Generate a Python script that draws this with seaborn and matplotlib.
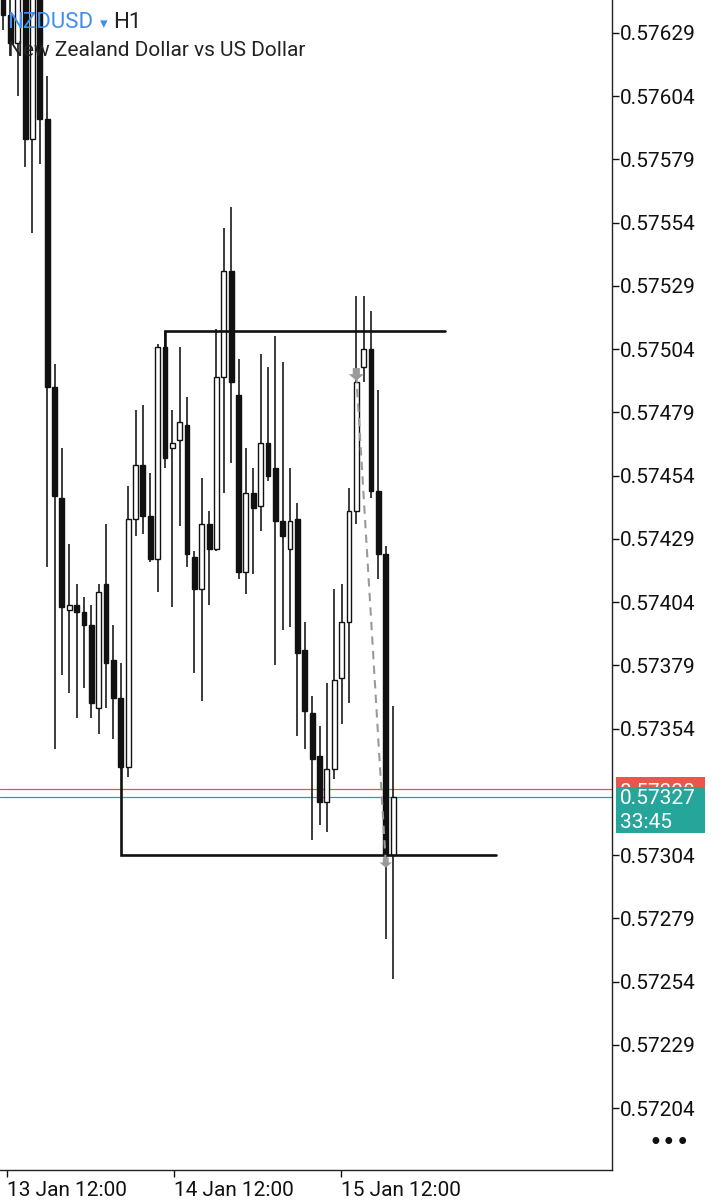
import matplotlib
matplotlib.use("Agg")
import matplotlib.pyplot as plt
import seaborn as sns
import numpy as np
import pandas as pd
from matplotlib.patches import Rectangle
from matplotlib.path import Path

# ---- data (NZDUSD H1 candles, oldest -> newest) ----
opens = [0.57650, 0.57636, 0.57625, 0.57644, 0.57587, 0.57643, 0.57595, 0.57489, 0.57445, 0.57401,
         0.57403, 0.57400, 0.57395, 0.57362, 0.57411, 0.57381, 0.57366, 0.57339, 0.57437, 0.57458,
         0.57438, 0.57421, 0.57505, 0.57465, 0.57468, 0.57474, 0.57422, 0.57409, 0.57435, 0.57425,
         0.57493, 0.57535, 0.57486, 0.57416, 0.57447, 0.57442, 0.57467, 0.57457, 0.57436, 0.57425,
         0.57437, 0.57385, 0.57360, 0.57343, 0.57325, 0.57338, 0.57374, 0.57396, 0.57440, 0.57497,
         0.57504, 0.57448, 0.57423, 0.57304]
highs = [0.57658, 0.57646, 0.57648, 0.57646, 0.57644, 0.57644, 0.57612, 0.57498, 0.57465, 0.57427,
         0.57411, 0.57406, 0.57403, 0.57411, 0.57435, 0.57395, 0.57380, 0.57450, 0.57480, 0.57482,
         0.57455, 0.57506, 0.57511, 0.57480, 0.57505, 0.57485, 0.57424, 0.57453, 0.57440, 0.57512,
         0.57552, 0.57560, 0.57500, 0.57465, 0.57457, 0.57502, 0.57497, 0.57509, 0.57499, 0.57457,
         0.57443, 0.57396, 0.57367, 0.57355, 0.57372, 0.57409, 0.57411, 0.57449, 0.57525, 0.57525,
         0.57519, 0.57488, 0.57426, 0.57363]
lows = [0.57630, 0.57620, 0.57604, 0.57576, 0.57550, 0.57577, 0.57418, 0.57346, 0.57375, 0.57368,
        0.57358, 0.57370, 0.57358, 0.57352, 0.57362, 0.57350, 0.57338, 0.57335, 0.57430, 0.57431,
        0.57420, 0.57408, 0.57457, 0.57402, 0.57434, 0.57418, 0.57376, 0.57365, 0.57403, 0.57424,
        0.57447, 0.57459, 0.57413, 0.57407, 0.57415, 0.57432, 0.57452, 0.57379, 0.57393, 0.57394,
        0.57351, 0.57346, 0.57310, 0.57316, 0.57313, 0.57334, 0.57356, 0.57364, 0.57435, 0.57491,
        0.57445, 0.57413, 0.57271, 0.57255]
closes = [0.57636, 0.57625, 0.57644, 0.57587, 0.57643, 0.57595, 0.57489, 0.57446, 0.57402, 0.57403,
          0.57400, 0.57395, 0.57364, 0.57408, 0.57380, 0.57366, 0.57339, 0.57437, 0.57458, 0.57438,
          0.57421, 0.57505, 0.57461, 0.57467, 0.57475, 0.57423, 0.57409, 0.57435, 0.57425, 0.57493,
          0.57535, 0.57491, 0.57416, 0.57447, 0.57441, 0.57467, 0.57454, 0.57436, 0.57430, 0.57436,
          0.57384, 0.57361, 0.57342, 0.57325, 0.57338, 0.57373, 0.57396, 0.57440, 0.57491, 0.57504,
          0.57448, 0.57423, 0.57304, 0.57327]

price_ticks = [0.57629, 0.57604, 0.57579, 0.57554, 0.57529, 0.57504, 0.57479, 0.57454, 0.57429,
               0.57404, 0.57379, 0.57354, 0.57304, 0.57279, 0.57254, 0.57229, 0.57204]
time_labels = ["13 Jan 12:00", "14 Jan 12:00", "15 Jan 12:00"]
time_label_pos = [0.55, 23.2, 45.9]

level_high = 0.57511
level_high_span = [22, 60]
level_low = 0.57304
level_low_span = [16, 67]
level_low_start = 0.57339
level_high_start = 0.57505

ask_price = 0.57330
bid_price = 0.57327
timer_text = "33:45"

trade_idx = [48, 52]
trade_price = [0.57494, 0.57301]

# ---- styling ----
sns.set_theme(style="white")
plt.rcParams['font.family'] = ['Roboto', 'DejaVu Sans']

W, H = 723, 1200
fig = plt.figure(figsize=(W / 100, H / 100), dpi=100)
fig.patch.set_facecolor("white")
ax = fig.add_axes([0, 30 / H, 612 / W, 1170 / H])
ax.set_facecolor("white")

df = pd.DataFrame({"i": np.arange(len(opens)), "o": opens, "h": highs, "l": lows, "c": closes})
df["bull"] = df["c"] >= df["o"]
df["lo"] = df[["o", "c"]].min(axis=1)
df["ht"] = (df["c"] - df["o"]).abs().clip(lower=0.000012)

dark = "#111111"
ax.vlines(df["i"], df["l"], df["h"], color=dark, lw=1.15, zorder=2)
ax.bar(df["i"], df["ht"], bottom=df["lo"], width=0.66,
       color=np.where(df["bull"], "white", dark), edgecolor=dark, linewidth=1.0, zorder=3)

# level lines
hi_df = pd.DataFrame({"x": [level_high_span[0], level_high_span[0], level_high_span[1]],
                      "y": [level_high_start, level_high, level_high]})
lo_df = pd.DataFrame({"x": [level_low_span[0], level_low_span[0], level_low_span[1]],
                      "y": [level_low_start, level_low, level_low]})
ax.plot(hi_df["x"], hi_df["y"], color=dark, lw=1.9, zorder=4, solid_joinstyle="miter")
ax.plot(lo_df["x"], lo_df["y"], color=dark, lw=1.9, zorder=4, solid_joinstyle="miter")

# price lines
ax.axhline(ask_price, color="#e0594f", lw=0.9, zorder=1)
ax.axhline(bid_price, color="#26a69a", lw=0.9, zorder=1)

# trade history line + markers
ax.plot(trade_idx, trade_price, color="#9a9a9a", lw=1.5, ls=(0, (4, 3)), zorder=5)
arrow = Path([(-0.28, 0.5), (0.28, 0.5), (0.28, 0.02), (0.6, 0.02), (0, -0.5),
              (-0.6, 0.02), (-0.28, 0.02), (-0.28, 0.5)])
sns.scatterplot(x=[trade_idx[0]], y=[trade_price[0]], marker=arrow, s=120, color="#9a9a9a",
                edgecolor="none", ax=ax, zorder=6, legend=False)
sns.scatterplot(x=[trade_idx[1]], y=[trade_price[1]], marker=arrow, s=80, color="#9a9a9a",
                edgecolor="none", ax=ax, zorder=6, legend=False)

ax.set_xlim(-0.41, 82.74)
ax.set_ylim(0.571795, 0.57642)

for s in ["left", "top"]:
    ax.spines[s].set_visible(False)
for s in ["right", "bottom"]:
    ax.spines[s].set_color("#222222")
    ax.spines[s].set_linewidth(1.0)

ax.yaxis.tick_right()
ax.set_yticks(price_ticks)
ax.set_yticklabels([f"{v:.5f}" for v in price_ticks])
ax.tick_params(axis="y", which="major", right=True, left=False, length=5, width=1.0,
               pad=1, labelsize=15, colors="#111111", direction="out")
ax.set_xticks(time_label_pos)
ax.set_xticklabels(time_labels, ha="left")
ax.tick_params(axis="x", which="major", bottom=True, length=5, width=1.0, pad=3,
               labelsize=15, colors="#111111", direction="out")
for lbl in ax.get_xticklabels():
    lbl.set_horizontalalignment("left")
ax.grid(False)

# title texts
fig.text(7 / W, 1 - 28 / H, "NZDUSD", color="#3f8ff0", fontsize=16, va="baseline", ha="left", zorder=1)
fig.text(100 / W, 1 - 28 / H, "▾", color="#3f8ff0", fontsize=11, va="baseline", ha="left",
         family=["DejaVu Sans"], zorder=1)
fig.text(113 / W, 1 - 28 / H, "H1", color="#222222", fontsize=16, va="baseline", ha="left", zorder=1)
fig.text(8 / W, 1 - 56 / H, "New Zealand Dollar vs US Dollar", color="#222222", fontsize=15,
         va="baseline", ha="left", zorder=1)

# price boxes (ask label peeks out above the bid label)
red_box = Rectangle((616 / W, 1 - 787 / H), 89 / W, 10 / H, transform=fig.transFigure,
                    facecolor="#e8574e", edgecolor="none", zorder=2)
fig.patches.append(red_box)
ask_txt = fig.text(620 / W, 1 - 793 / H, f"{ask_price:.5f}", color="white", fontsize=15, va="center",
                   ha="left", zorder=3)
ask_txt.set_clip_path(red_box)
fig.patches.append(Rectangle((616 / W, 1 - 833 / H), 89 / W, 46 / H, transform=fig.transFigure,
                             facecolor="#26a69a", edgecolor="none", zorder=4))
fig.text(620 / W, 1 - 798 / H, f"{bid_price:.5f}", color="white", fontsize=15, va="center",
         ha="left", zorder=5)
fig.text(620 / W, 1 - 822 / H, timer_text, color="white", fontsize=15, va="center",
         ha="left", zorder=5)

fig.text(669 / W, 1 - 1143 / H, "•••", color="#111111", fontsize=17, va="center", ha="center",
         family=["DejaVu Sans"])

fig.savefig("out.png", dpi=100, facecolor="white")
